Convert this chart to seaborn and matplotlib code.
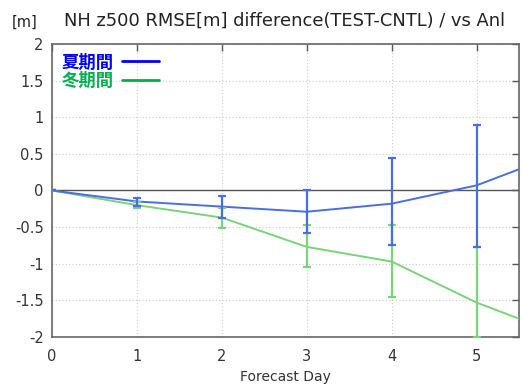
import matplotlib
matplotlib.use("Agg")
import matplotlib.pyplot as plt
import seaborn as sns
import pandas as pd
from matplotlib.lines import Line2D

days = [0, 1, 2, 3, 4, 5, 6]
summer = [0.0, -0.15, -0.22, -0.29, -0.18, 0.07, 0.51]
summer_lo = [0.0, -0.21, -0.38, -0.58, -0.75, -0.77, None]
summer_hi = [0.0, -0.10, -0.07, 0.00, 0.44, 0.89, None]
winter = [0.0, -0.20, -0.37, -0.77, -0.97, -1.53, -1.97]
winter_lo = [0.0, -0.24, -0.51, -1.05, -1.45, -2.00, None]
winter_hi = [0.0, -0.16, -0.24, -0.47, -0.47, -0.77, None]
labels = ["夏期間", "冬期間"]

sns.set_theme(style="white")
plt.rcParams['font.family'] = ['DejaVu Sans', 'Noto Sans CJK JP']

fig = plt.figure(figsize=(5.23, 3.85), dpi=100)
ax = fig.add_axes([0.0994, 0.1247, 0.8930, 0.7610])

line_blue = "#4a6ee0"
line_green = "#7ad27a"

df = pd.DataFrame({
    "day": days * 2,
    "val": summer + winter,
    "period": [labels[0]] * len(days) + [labels[1]] * len(days),
})
sns.lineplot(data=df, x="day", y="val", hue="period",
             palette={labels[0]: line_blue, labels[1]: line_green},
             hue_order=[labels[1], labels[0]],
             ax=ax, legend=False, linewidth=1.4, zorder=3)

for vals, lo, hi, c in [(winter, winter_lo, winter_hi, line_green),
                        (summer, summer_lo, summer_hi, line_blue)]:
    xs, ys, el, eh = [], [], [], []
    for d, v, l, h in zip(days, vals, lo, hi):
        if l is None:
            continue
        xs.append(d); ys.append(v); el.append(v - l); eh.append(h - v)
    ax.errorbar(xs, ys, yerr=[el, eh], fmt="none", ecolor=c, elinewidth=1.6,
                capsize=3, capthick=1.6, zorder=4, clip_on=True)

ax.axhline(0, color="#555555", linewidth=1.0, zorder=2)
ax.set_xlim(0, 5.5)
ax.set_ylim(-2, 2)
ax.set_xticks([0, 1, 2, 3, 4, 5])
ax.set_yticks([-2, -1.5, -1, -0.5, 0, 0.5, 1, 1.5, 2])
ax.set_yticklabels(["-2", "-1.5", "-1", "-0.5", "0", "0.5", "1", "1.5", "2"])
ax.grid(True, color="#cccccc", linestyle=(0, (1, 2)), linewidth=0.8)
ax.tick_params(direction="in", length=5, width=1, color="#555555",
               top=True, right=True, labelsize=10.5, labelcolor="#333333", pad=6)
ax.tick_params(axis="x", pad=9)
for s in ax.spines.values():
    s.set_color("#666666")
    s.set_linewidth(1.2)
ax.set_xlabel("")
ax.set_ylabel("")
fig.text(0.545, 0.022, "Forecast Day", ha="center", va="center",
         fontsize=10, color="#333333")

fig.text(0.544, 0.945, "NH z500 RMSE[m] difference(TEST-CNTL) / vs Anl",
         ha="center", va="center", fontsize=12.9, color="#222222")
fig.text(0.023, 0.942, "[m]", ha="left", va="center", fontsize=10.5, color="#222222")

handles = [Line2D([], [], color="#0000ff", linewidth=2),
           Line2D([], [], color="#00b050", linewidth=2)]
leg = ax.legend(handles, labels, loc="upper left", frameon=False,
                markerfirst=False, handlelength=2.1, handletextpad=0.5,
                labelspacing=0.05, borderaxespad=0.15,
                prop={"family": ["Noto Sans CJK JP"], "weight": "bold", "size": 12.5})
for t, c in zip(leg.get_texts(), ["#0000ff", "#00b050"]):
    t.set_color(c)

fig.savefig("out.png", dpi=100)
